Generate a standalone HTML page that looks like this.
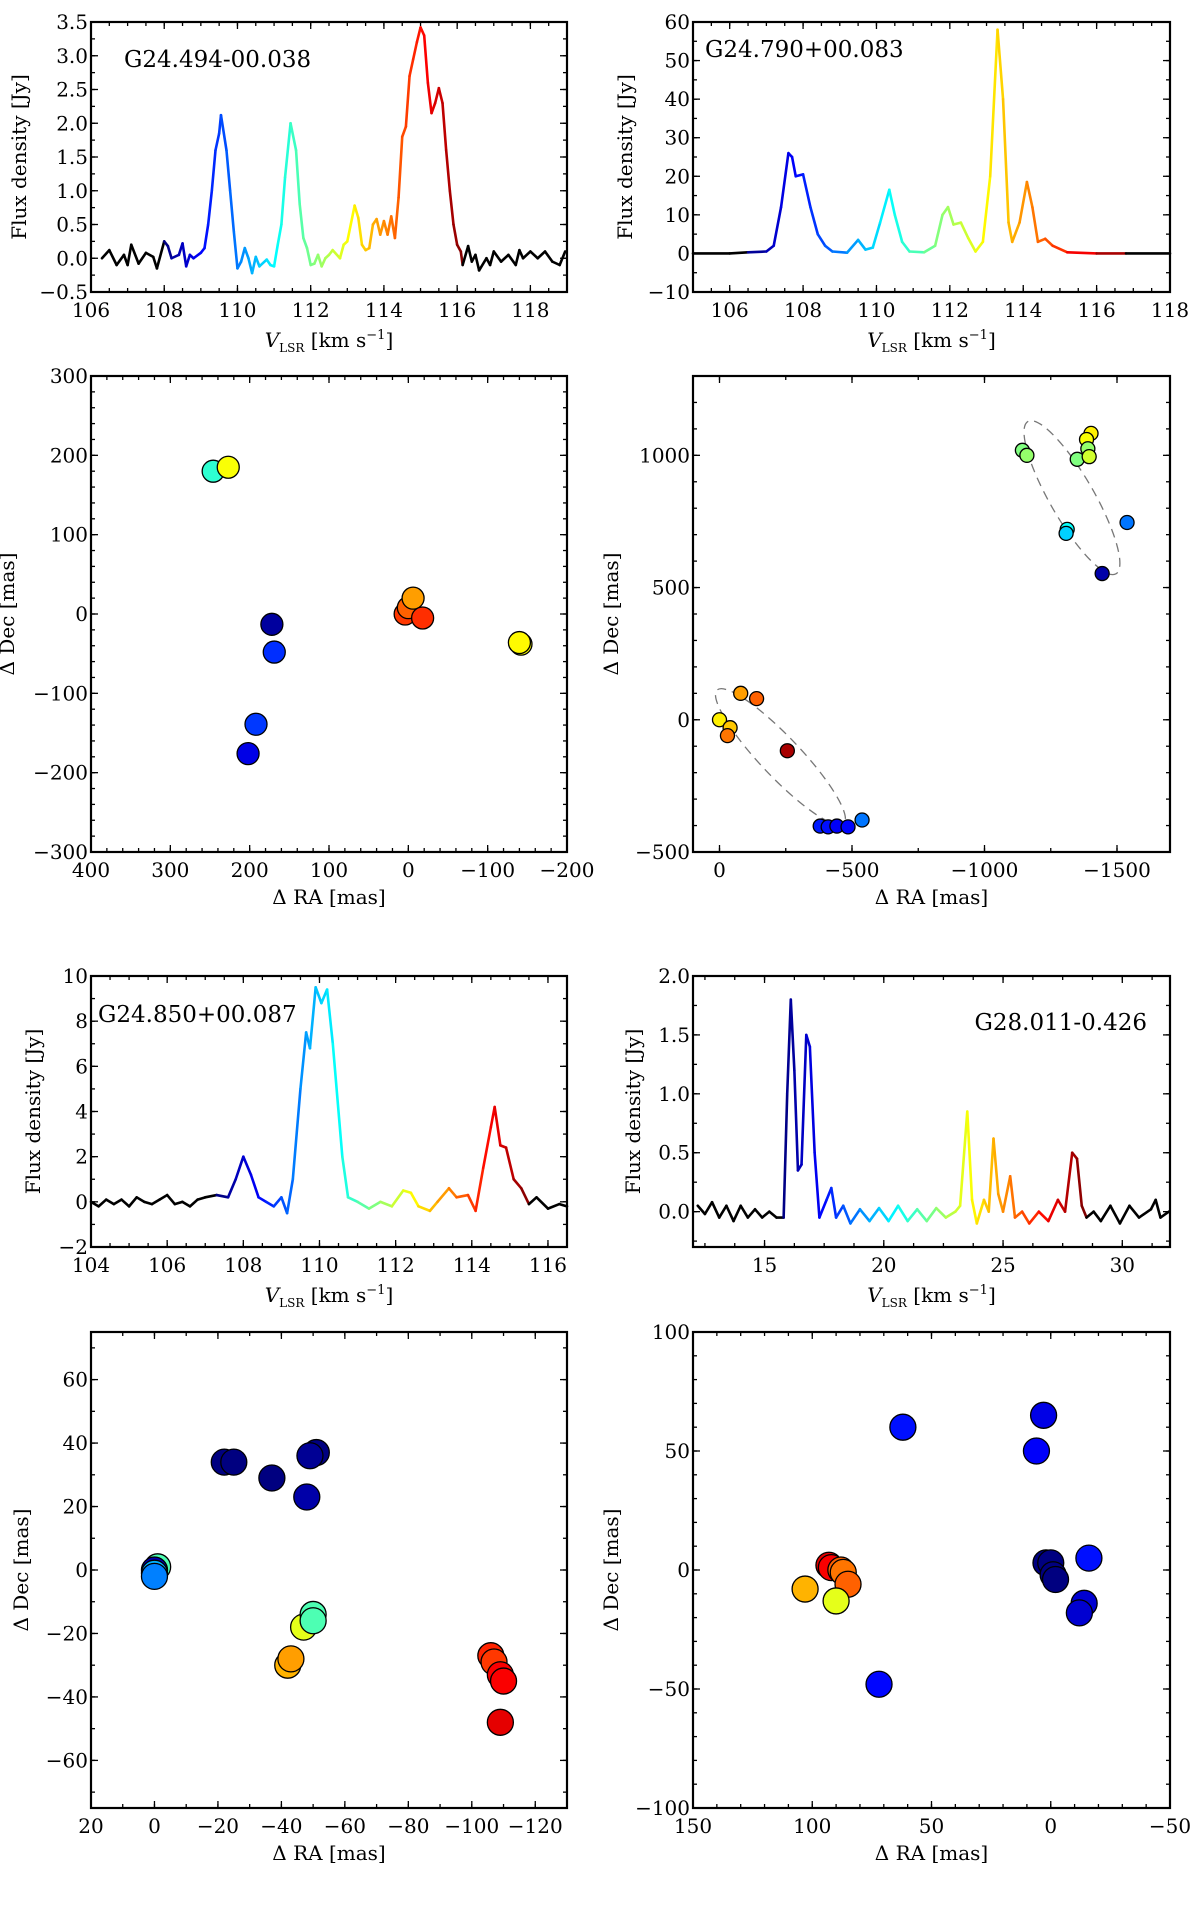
<!DOCTYPE html>
<html><head><meta charset="utf-8">
<style>
html,body{margin:0;padding:0;background:#fff;}
svg{display:block;font-family:"DejaVu Serif","Liberation Serif",serif;}
</style></head>
<body>
<svg id="fig" width="1200" height="1913" viewBox="0 0 1200 1913" xmlns="http://www.w3.org/2000/svg"></svg>
<script>
// ---------- Spectrum data ----------
const spec1V = [106.3,106.5,106.7,106.9,107.0,107.1,107.3,107.5,107.7,107.8,108.0,108.1,108.2,108.4,108.5,108.6,108.7,108.8,109.0,109.1,109.2,109.3,109.4,109.5,109.55,109.7,109.8,109.9,110.0,110.1,110.2,110.3,110.4,110.5,110.6,110.8,110.9,111.0,111.1,111.2,111.3,111.45,111.6,111.7,111.8,111.9,112.0,112.1,112.2,112.3,112.4,112.5,112.6,112.8,112.9,113.0,113.2,113.3,113.4,113.5,113.6,113.7,113.8,113.9,114.0,114.1,114.2,114.3,114.4,114.5,114.6,114.7,114.8,114.9,115.0,115.1,115.2,115.3,115.4,115.5,115.6,115.7,115.8,115.9,116.0,116.1,116.15,116.3,116.4,116.5,116.6,116.8,116.9,117.0,117.2,117.4,117.6,117.7,117.8,118.0,118.2,118.4,118.6,118.8,118.95];
const spec1F = [0.0,0.12,-0.1,0.05,-0.1,0.2,-0.08,0.08,0.02,-0.15,0.25,0.18,0.0,0.05,0.22,-0.12,0.05,0.0,0.08,0.15,0.5,1.0,1.6,1.85,2.12,1.6,1.0,0.4,-0.15,-0.05,0.15,0.0,-0.22,0.02,-0.12,-0.02,-0.1,-0.12,0.2,0.5,1.2,2.0,1.6,0.8,0.3,0.15,-0.1,-0.08,0.05,-0.12,0.0,0.05,0.12,0.0,0.2,0.25,0.78,0.6,0.2,0.12,0.15,0.5,0.58,0.35,0.55,0.35,0.62,0.3,0.9,1.8,1.95,2.7,2.95,3.2,3.42,3.3,2.6,2.15,2.3,2.52,2.3,1.6,1.0,0.5,0.2,0.1,-0.1,0.18,-0.05,0.05,-0.18,0.0,-0.1,0.1,-0.05,0.05,-0.1,0.12,0.0,0.1,0.0,0.1,-0.05,-0.1,0.1];
const spec1Range = [108.0, 116.15];

const spec2V = [105.0,106.0,106.5,107.0,107.2,107.4,107.6,107.7,107.8,108.0,108.2,108.4,108.6,108.8,109.2,109.5,109.7,109.9,110.1,110.35,110.5,110.7,110.9,111.3,111.6,111.8,111.95,112.1,112.3,112.5,112.7,112.9,113.1,113.3,113.45,113.6,113.7,113.9,114.1,114.25,114.4,114.6,114.8,115.2,116.0,116.8,118.0];
const spec2F = [0,0,0.3,0.5,2,12,26,25,20,20.5,12,5,2,0.5,0.2,3.5,1,1.5,8,16.5,10,3,0.5,0.3,2,10,12,7.5,8,4,0.5,3,20,58,40,8,3,8,18.5,12,3,3.8,2,0.3,0,0,0];
const spec2Range = [106.5, 116.8];

const spec3V = [104.0,104.2,104.4,104.6,104.8,105.0,105.2,105.4,105.6,105.8,106.0,106.2,106.4,106.6,106.8,107.0,107.3,107.6,107.8,108.0,108.2,108.4,108.6,108.8,109.0,109.15,109.3,109.5,109.65,109.75,109.9,110.05,110.2,110.35,110.6,110.75,111.0,111.3,111.6,111.9,112.2,112.4,112.6,112.9,113.1,113.4,113.6,113.9,114.1,114.3,114.5,114.6,114.75,114.9,115.1,115.3,115.5,115.7,116.0,116.3,116.5];
const spec3F = [0,-0.2,0.1,-0.1,0.1,-0.2,0.2,0,-0.1,0.1,0.3,-0.1,0.0,-0.2,0.1,0.2,0.3,0.2,1.0,2.0,1.2,0.2,0,-0.2,0.2,-0.5,1.0,5,7.5,6.8,9.5,8.8,9.4,7,2,0.2,0.0,-0.3,0,-0.2,0.5,0.4,-0.2,-0.4,0.0,0.6,0.2,0.3,-0.4,1.5,3.3,4.2,2.5,2.4,1.0,0.6,-0.1,0.2,-0.3,-0.1,-0.2];
const spec3Range = [107.4, 115.5];

const spec4V = [12.2,12.5,12.8,13.1,13.4,13.7,14.0,14.3,14.6,14.9,15.2,15.5,15.8,15.95,16.1,16.25,16.4,16.55,16.75,16.9,17.1,17.3,17.6,17.8,18.0,18.3,18.6,19.0,19.4,19.8,20.2,20.6,21.0,21.4,21.8,22.2,22.6,23.0,23.2,23.5,23.7,23.9,24.2,24.4,24.6,24.8,25.0,25.3,25.5,25.8,26.1,26.5,26.9,27.3,27.6,27.9,28.1,28.3,28.5,28.8,29.1,29.5,29.9,30.3,30.7,31.2,31.4,31.6,31.95];
const spec4F = [0.05,-0.02,0.08,-0.05,0.05,-0.08,0.05,-0.05,0.02,-0.05,0.0,-0.05,-0.05,1.0,1.8,1.2,0.35,0.4,1.5,1.4,0.5,-0.05,0.1,0.2,-0.05,0.05,-0.1,0.02,-0.08,0.03,-0.08,0.05,-0.08,0.02,-0.08,0.03,-0.05,0.0,0.05,0.85,0.1,-0.1,0.1,0.0,0.62,0.15,0.0,0.3,-0.05,0.0,-0.1,0.0,-0.08,0.1,0.0,0.5,0.45,0.05,-0.05,0.0,-0.08,0.05,-0.1,0.05,-0.05,0.02,0.1,-0.05,0.0];
const spec4Range = [15.8, 28.4];

// ---------- Spot map data (RA, Dec, colour fraction) ----------
const map1RA  = [246,227,172,169,192,202,4,0,-6,-18,-142,-140];
const map1Dec = [180,185,-13,-48,-139,-176,0,8,20,-5,-38,-36];
const map1C   = [0.42,0.62,0.03,0.17,0.18,0.1,0.82,0.78,0.72,0.83,0.62,0.63];

const map2RA  = [-1143,-1160,-1402,-1385,-1390,-1350,-1395,-1312,-1308,-1538,-1444,-80,-140,0,-40,-30,-256,-380,-410,-443,-485,-538];
const map2Dec = [1019,1000,1083,1060,1025,985,995,720,705,746,553,100,80,0,-30,-60,-117,-402,-405,-402,-405,-379];
const map2C   = [0.5,0.52,0.64,0.62,0.52,0.5,0.58,0.38,0.33,0.24,0.04,0.72,0.78,0.64,0.68,0.76,0.96,0.15,0.14,0.12,0.13,0.24];

const map3RA  = [-1,0,0,0,-22,-25,-37,-51,-49,-48,-47,-50,-50,-42,-43,-106,-107,-109,-110,-109];
const map3Dec = [1,0,-1,-2,34,34,29,37,36,23,-18,-14,-16,-30,-28,-27,-29,-33,-35,-48];
const map3C   = [0.45,0.05,0.3,0.25,0.0,0.0,0.0,0.0,0.02,0.04,0.6,0.45,0.45,0.7,0.72,0.84,0.82,0.88,0.88,0.9];

const map4RA  = [62,3,6,2,0,-1,-2,-16,-14,-12,72,93,92,88,87,85,103,90];
const map4Dec = [60,65,50,3,3,-2,-4,5,-14,-18,-48,2,1,0,-1,-6,-8,-13];
const map4C   = [0.14,0.1,0.12,0.0,0.0,0.0,0.0,0.14,0.08,0.08,0.13,0.9,0.88,0.78,0.76,0.78,0.7,0.6];

// ---------- Ticks ----------
const ticks1X=[106,108,110,112,114,116,118], ticks1Y=[-0.5,0,0.5,1,1.5,2,2.5,3,3.5];
const ticks2X=[106,108,110,112,114,116,118], ticks2Y=[-10,0,10,20,30,40,50,60];
const ticks3X=[104,106,108,110,112,114,116], ticks3Y=[-2,0,2,4,6,8,10];
const ticks4X=[15,20,25,30], ticks4Y=[0,0.5,1,1.5,2];
const ticksM1X=[400,300,200,100,0,-100,-200], ticksM1Y=[-300,-200,-100,0,100,200,300];
const ticksM2X=[0,-500,-1000,-1500], ticksM2Y=[-500,0,500,1000];
const ticksM3X=[20,0,-20,-40,-60,-80,-100,-120], ticksM3Y=[-60,-40,-20,0,20,40,60];
const ticksM4X=[150,100,50,0,-50], ticksM4Y=[-100,-50,0,50,100];

const NS="http://www.w3.org/2000/svg";
const fig=document.getElementById('fig');
function mk(tag,attrs,parent){const e=document.createElementNS(NS,tag);for(const k in attrs)e.setAttribute(k,attrs[k]);(parent||fig).appendChild(e);return e;}
function jet(t){t=Math.max(0,Math.min(1,t));
  const r=Math.max(0,Math.min(1,1.5-Math.abs(4*t-3))),g=Math.max(0,Math.min(1,1.5-Math.abs(4*t-2))),b=Math.max(0,Math.min(1,1.5-Math.abs(4*t-1)));
  return 'rgb('+Math.round(r*255)+','+Math.round(g*255)+','+Math.round(b*255)+')';}
function fmt(v,dec){const s=Math.abs(v).toFixed(dec);return (v<0?'\u2212':'')+s;}

function axes(name,L,R,T,B,xmin,xmax,ymin,ymax,xt,yt,dec,minor){
  const g=mk('g',{});
  
  
  const sx=v=>L+(v-xmin)/(xmax-xmin)*(R-L), sy=v=>B-(v-ymin)/(ymax-ymin)*(B-T);
  const tk={stroke:'#000','stroke-width':1.3};
  xt.forEach(v=>{const x=sx(v);
    mk('line',Object.assign({x1:x,x2:x,y1:B,y2:B-7},tk),g);mk('line',Object.assign({x1:x,x2:x,y1:T,y2:T+7},tk),g);
    const t=mk('text',{x:x,y:B+25,'text-anchor':'middle','font-size':20},g);t.textContent=fmt(v,dec[0]);
    });
  yt.forEach(v=>{const y=sy(v);
    mk('line',Object.assign({x1:L,x2:L+7,y1:y,y2:y},tk),g);mk('line',Object.assign({x1:R,x2:R-7,y1:y,y2:y},tk),g);
    const t=mk('text',{x:L-3,y:y+7,'text-anchor':'end','font-size':20},g);t.textContent=fmt(v,dec[1]);
    });
  if(minor){
    const dx=(xt[1]-xt[0])/minor[0];
    for(let v=xt[0]-dx*minor[0];(dx>0?v<=Math.max(xmin,xmax):v>=Math.min(xmin,xmax));v+=dx){
      if(v<Math.min(xmin,xmax)||v>Math.max(xmin,xmax))continue;const x=sx(v);
      mk('line',Object.assign({x1:x,x2:x,y1:B,y2:B-4},tk),g);mk('line',Object.assign({x1:x,x2:x,y1:T,y2:T+4},tk),g);}
    const dy=(yt[1]-yt[0])/minor[1];
    for(let v=yt[0]-dy*minor[1];v<=ymax;v+=dy){if(v<ymin)continue;const y=sy(v);
      mk('line',Object.assign({x1:L,x2:L+4,y1:y,y2:y},tk),g);mk('line',Object.assign({x1:R,x2:R-4,y1:y,y2:y},tk),g);}
  }
  return {g,sx,sy,frame:()=>mk('rect',{x:L,y:T,width:R-L,height:B-T,fill:'none',stroke:'#000','stroke-width':2.2},g)};
}

function spectrum(name,L,R,T,B,xr,yr,xt,yt,dec,V,F,rng,title,tx,ty,anchor,ytx){
  const a=axes(name+'-axes',L,R,T,B,xr[0],xr[1],yr[0],yr[1],xt,yt,dec,[4,2]);
  const line=mk('g',{'stroke-width':2.6,'stroke-linecap':'round',fill:'none'},a.g);
  
  
  for(let i=0;i<V.length-1;i++){
    const mid=(V[i]+V[i+1])/2;
    const col=(mid<rng[0]||mid>rng[1])?'#000':jet((mid-rng[0])/(rng[1]-rng[0]));
    mk('line',{x1:a.sx(V[i]),y1:a.sy(F[i]),x2:a.sx(V[i+1]),y2:a.sy(F[i+1]),stroke:col},line);
  }
  a.frame();
  const t=mk('text',{x:tx,y:ty,'font-size':23,'text-anchor':anchor},a.g);t.textContent=title;
  
  const xl=mk('text',{x:(L+R)/2,y:B+55,'font-size':20,'text-anchor':'middle'},a.g);
  xl.innerHTML='<tspan font-style="italic">V</tspan><tspan font-size="12" dy="5">LSR</tspan><tspan dy="-5"> [km s</tspan><tspan font-size="13" dy="-8">\u22121</tspan><tspan dy="8">]</tspan>';
  
  const yl=mk('text',{x:ytx,y:(T+B)/2,'font-size':20,'text-anchor':'middle',transform:'rotate(-90 '+ytx+' '+(T+B)/2+')'},a.g);
  yl.textContent='Flux density [Jy]';
  
}

function spotmap(name,L,R,T,B,xr,yr,xt,yt,minor,RA,DEC,C,rad,ytx,ell){
  const a=axes(name+'-axes',L,R,T,B,xr[0],xr[1],yr[0],yr[1],xt,yt,[0,0],minor);
  if(ell){ell.forEach(e=>{const cx=a.sx(e[0]),cy=a.sy(e[1]);
    const el=mk('ellipse',{cx:cx,cy:cy,rx:e[2],ry:e[3],transform:'rotate('+e[4]+' '+cx+' '+cy+')',fill:'none',stroke:'#777','stroke-width':1.3,'stroke-dasharray':'9,6'},a.g);
    });}
  const pts=mk('g',{},a.g);
  
  
  for(let i=0;i<RA.length;i++){
    const c=mk('circle',{cx:a.sx(RA[i]),cy:a.sy(DEC[i]),r:rad,fill:jet(C[i]),stroke:'#000','stroke-width':1.3},pts);
    
    
  }
  a.frame();
  const xl=mk('text',{x:(L+R)/2,y:B+52,'font-size':20,'text-anchor':'middle'},a.g);
  xl.textContent='\u0394 RA [mas]';
  
  const yl=mk('text',{x:ytx,y:(T+B)/2,'font-size':20,'text-anchor':'middle',transform:'rotate(-90 '+ytx+' '+(T+B)/2+')'},a.g);
  yl.textContent='\u0394 Dec [mas]';
  
}

spectrum('spectrum-g24494',91,567,22,292,[106,119],[-0.5,3.5],ticks1X,ticks1Y,[0,1],spec1V,spec1F,spec1Range,'G24.494-00.038',124,67,'start',26);
spectrum('spectrum-g24790',693,1170,22,292,[105,118],[-10,60],ticks2X,ticks2Y,[0,0],spec2V,spec2F,spec2Range,'G24.790+00.083',705,57,'start',632);
spotmap('map-g24494',91,567,376,852,[400,-200],[-300,300],ticksM1X,ticksM1Y,[5,5],map1RA,map1Dec,map1C,11,14,null);
spotmap('map-g24790',693,1170,376,852,[100,-1700],[-500,1300],ticksM2X,ticksM2Y,[2,5],map2RA,map2Dec,map2C,7,618,[[-1330,840,88,22,60],[-230,-140,92,20,46.5]]);
spectrum('spectrum-g24850',91,567,976,1247,[104,116.5],[-2,10],ticks3X,ticks3Y,[0,0],spec3V,spec3F,spec3Range,'G24.850+00.087',98,1022,'start',40);
spectrum('spectrum-g28011',693,1170,976,1247,[12,32],[-0.3,2.0],ticks4X,ticks4Y,[0,1],spec4V,spec4F,spec4Range,'G28.011-0.426',1147,1030,'end',640);
spotmap('map-g24850',91,567,1332,1808,[20,-130],[-75,75],ticksM3X,ticksM3Y,[2,2],map3RA,map3Dec,map3C,13,28,null);
spotmap('map-g28011',693,1170,1332,1808,[150,-50],[-100,100],ticksM4X,ticksM4Y,[5,5],map4RA,map4Dec,map4C,13,618,null);
</script>
</body></html>
